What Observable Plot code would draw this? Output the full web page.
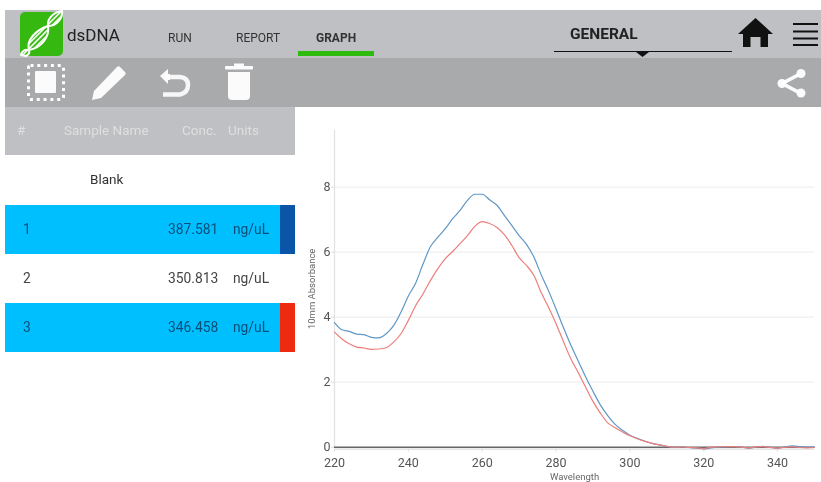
<!DOCTYPE html>
<html><head><meta charset="utf-8">
<script src="https://cdn.jsdelivr.net/npm/d3@7"></script>
<script src="https://cdn.jsdelivr.net/npm/@observablehq/plot@0.6"></script>
<style>
html,body{margin:0;padding:0;background:#fff;width:821px;height:482px;overflow:hidden;font-family:Roboto,sans-serif}
#page{position:absolute;left:0;top:0;width:821px;height:482px;filter:blur(.4px)}
.b{position:absolute}
.t{position:absolute;white-space:nowrap;transform:translateY(-50%);line-height:1}
#chart{position:absolute;left:300px;top:120px}
#chart svg{background:transparent}
</style></head><body><div id="page">
<div class="b" style="left:5px;top:10px;width:816px;height:48px;background:#bfc0c3"></div>
<div class="b" style="left:5px;top:58px;width:816px;height:49px;background:#a9aaac"></div>
<div class="b" style="left:5px;top:107px;width:290px;height:48px;background:#bfc0c3"></div>
<div class="b" style="left:298px;top:51px;width:76px;height:5px;background:#2dbb0e"></div>
<div class="b" style="left:554px;top:51px;width:178px;height:1px;background:#111"></div>
<div id="rows"></div>
<div id="chart"></div>
<svg class="b" style="left:0;top:0;pointer-events:none" width="821" height="482">
  <defs><pattern id="st" width="3.6" height="3.6" patternUnits="userSpaceOnUse" patternTransform="rotate(45)"><rect width="3.6" height="3.6" fill="#35b80f"/><rect width="1.8" height="3.6" fill="#e4f6dd"/></pattern></defs>
  <rect x="20" y="12" width="43" height="44" rx="5" fill="#35b80f"/>
  <g stroke="#fff" stroke-width="2" fill="url(#st)" stroke-linejoin="round">
    <path d="M29 50C26 40 36 30 48 26C50 37 41 48 29 50Z"/>
    <path d="M48 26C47 18 54 12 62 11C63 18 57 26 48 26Z"/>
    <path d="M21 55C22 51 25 49 29 50C30 53 28 55 26 56Z"/>
  </g>
  <g fill="#fff" fill-opacity=".95">
    <rect x="35" y="71" width="21" height="22" rx="1"/>
    <path d="M92 100l2-9 23-24q1.500-1.500 3 0l5 5q1.500 1.500 0 3l-24 23z"/>
    <rect x="225" y="66" width="28" height="3.500" rx="1"/><rect x="234" y="63.500" width="10" height="4"/>
    <path d="M228 72h22v24q0 4-4 4h-14q-4 0-4-4z"/>
    <circle cx="801" cy="73.500" r="4.500"/><circle cx="782" cy="83.500" r="4.500"/><circle cx="801" cy="93" r="4.500"/>
    <path d="M781 82l19-10 2 3-19 10zM783 82l19 10-2 3-19-10z"/>
    <path d="M160 76l8-7v5h2v6h-2v4z"/>
  </g>
  <path d="M166 77h14q8 .5 8 8t-8 9.500h-17" fill="none" stroke="#fff" stroke-opacity=".9" stroke-width="4.500"/>
  <rect x="28.500" y="65.500" width="35" height="34" rx="2" fill="none" stroke="#fff" stroke-width="3" stroke-dasharray="3 3.800"/>
  <path d="M636 52h13l-6.500 5z" fill="#111"/>
  <path d="M755.500 18L773 34h-5v13h-7.500v-10h-10v10h-7.500V34h-5z" fill="#111"/>
  <path d="M793 24h25M793 31.500h25M793 38.500h25M793 45h25" stroke="#111" stroke-width="2"/>
</svg>
<div id="labels"></div>
</div>
<script>
const wavelength = [220,222,224,226,228,230,232,234,236,238,240,242,244,246,248,250,252,254,256,258,260,262,264,266,268,270,272,274,276,278,280,282,284,286,288,290,292,294,296,298,300,302,304,306,308,310,312,314,316,318,320,322,324,326,328,330,332,334,336,338,340,342,344,346,348,350];
const blueSeries = [3.83,3.61,3.56,3.48,3.46,3.38,3.36,3.49,3.74,4.15,4.65,5.05,5.64,6.17,6.46,6.72,7.03,7.28,7.59,7.78,7.78,7.61,7.44,7.13,6.82,6.51,6.24,5.85,5.30,4.80,4.25,3.68,3.14,2.65,2.17,1.72,1.30,0.97,0.70,0.52,0.37,0.27,0.19,0.12,0.07,0.03,0.00,0.01,-0.01,-0.03,-0.05,-0.02,0.00,0.01,0.02,0.01,-0.03,0.00,0.03,0.00,-0.03,0.01,0.04,0.02,0.00,0.01];
const redSeries = [3.54,3.33,3.18,3.08,3.05,3.01,3.02,3.06,3.23,3.49,3.90,4.36,4.72,5.13,5.49,5.80,6.02,6.26,6.51,6.79,6.94,6.88,6.76,6.54,6.21,5.83,5.59,5.28,4.75,4.30,3.80,3.25,2.72,2.30,1.85,1.41,1.05,0.75,0.60,0.47,0.35,0.26,0.18,0.12,0.07,0.03,0.00,0.01,-0.01,-0.02,-0.04,0.00,0.01,0.02,0.02,0.00,-0.02,0.01,0.02,-0.01,-0.03,0.00,0.01,-0.01,-0.02,-0.01];
const xTicks = [220,240,260,280,300,320,340];
const yTicks = [0,2,4,6,8];
const sampleIds = ["1","2","3"];
const concentrations = ["387.581","350.813","346.458"];
const units = ["ng/uL","ng/uL","ng/uL"];
const selected = [true,false,true];
const swatches = ["#0b55a8",null,"#ee2a10"];
const navTabs = ["RUN","REPORT","GRAPH"];
const tableHead = ["#","Sample Name","Conc.","Units"];

const toRows = s => wavelength.map((w,i)=>({w,v:s[i]}));
const plot = Plot.plot({
  width:521,height:362,marginLeft:34,marginRight:7,marginTop:10,marginBottom:35.3,
  style:{fontFamily:"Roboto, sans-serif",fontSize:"12.5px",color:"#555"},
  x:{domain:[220,350],label:null},
  y:{domain:[0,9.74],label:null},
  marks:[
    Plot.ruleY(yTicks.filter(d=>d>0),{stroke:"#efefef",strokeWidth:1.2}),
    Plot.ruleX([220],{stroke:"#e2e2e2",strokeWidth:1.2}),
    Plot.ruleY([0],{stroke:"#dcdcdc",dy:2,strokeWidth:1.2}),
    Plot.ruleY([0],{stroke:"#666",strokeWidth:1.4}),
    Plot.axisX({ticks:xTicks,tickSize:3,tickPadding:5.5,stroke:"#ddd",label:null,fill:"#555",dy:2}),
    Plot.axisY({ticks:yTicks,tickSize:3,tickPadding:1,stroke:"#ddd",label:null,fill:"#555"}),
    Plot.line(toRows(blueSeries),{x:"w",y:"v",stroke:"#5f97c6",strokeWidth:1.2,curve:"monotone-x"}),
    Plot.line(toRows(redSeries),{x:"w",y:"v",stroke:"#ec7f7c",strokeWidth:1.2,curve:"monotone-x"}),
    Plot.text(["10mm Absorbance"],{frameAnchor:"left",textAnchor:"middle",rotate:-90,dx:-23,fontSize:9.5,fill:"#666"}),
    Plot.text(["Wavelength"],{frameAnchor:"bottom",dy:33,fontSize:9.5,fill:"#666"})
  ]
});
document.getElementById("chart").append(plot);

const rows = document.getElementById("rows");
const rowTops = [205,254,303];
sampleIds.forEach((id,i)=>{
  if(selected[i]){
    rows.insertAdjacentHTML("beforeend",`<div class="b" style="left:5px;top:${rowTops[i]}px;width:290px;height:49px;background:#00bfff"></div>`);
    rows.insertAdjacentHTML("beforeend",`<div class="b" style="left:280px;top:${rowTops[i]}px;width:15px;height:49px;background:${swatches[i]}"></div>`);
  }
});
const labels = document.getElementById("labels");
const put=(s,x,y,size,color,weight)=>{
  const e=document.createElement("div");e.className="t";e.textContent=s;
  e.style.cssText=`left:${x}px;top:${y}px;font-size:${size}px;color:${color};font-weight:${weight||400}`;
  labels.append(e);
};
put("dsDNA",67,34.500,17,"#222");
const tabX=[168,236,316];
navTabs.forEach((t,i)=>put(t,tabX[i],37.500,12,"#333",i==2?700:400));
put("GENERAL",570,34.500,15.500,"#222",700);
const headX=[17,64,182,228];
tableHead.forEach((t,i)=>put(t,headX[i],131,13.500,"#dfdfdf"));
put("Blank",90,179.500,13.500,"#333");
sampleIds.forEach((id,i)=>{
  const y=rowTops[i]+24.500, c=selected[i]?"#0a4e78":"#444";
  put(id,23,y,13.800,c);
  put(concentrations[i],168,y,13.800,c);
  put(units[i],233,y,13.800,c);
});
</script>
</body></html>
